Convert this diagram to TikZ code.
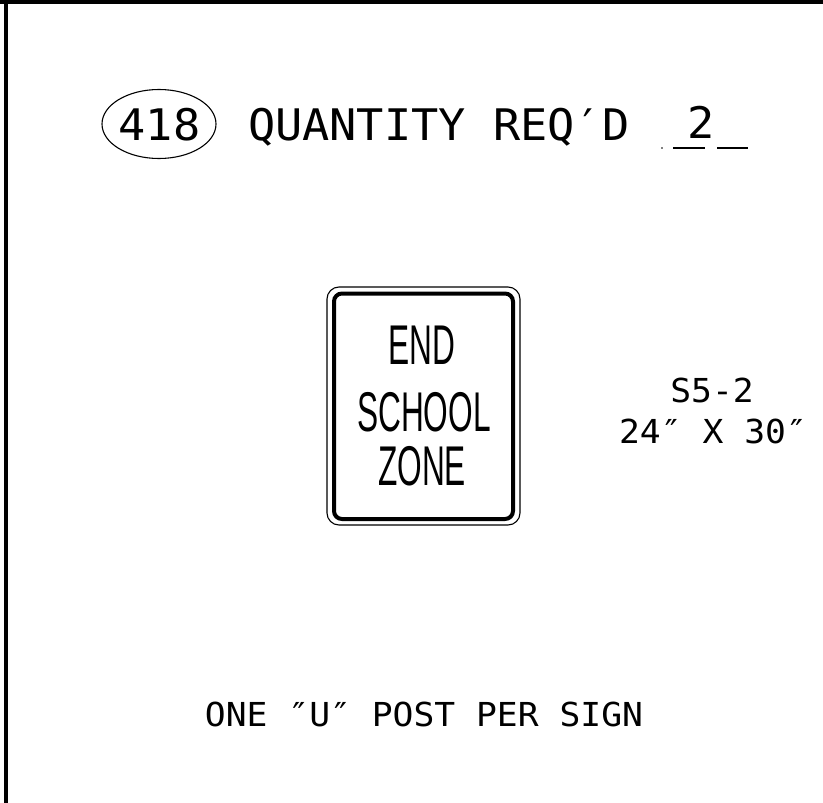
\documentclass[tikz,border=0pt]{standalone}
\usepackage{fontspec}
\usetikzlibrary{shapes.geometric}
\newfontfamily\monof{DejaVu Sans Mono}
\newfontfamily\signf{Liberation Sans}
\newcommand{\headtxt}[1]{\scalebox{1.04}[1]{\monof\fontsize{43.5}{50}\selectfont #1}}
\newcommand{\smalltxt}[1]{\scalebox{1.05}[1]{\monof\fontsize{33}{40}\selectfont #1}}
\newcommand{\signtxt}[1]{\scalebox{0.565}[1]{\signf\fontsize{56}{60}\selectfont #1}}
\begin{document}
\begin{tikzpicture}[x=1pt,y=-1pt,
  lbl/.style={anchor=base,inner sep=0pt,outer sep=0pt},
  frame/.style={line width=3.8pt},
  uline/.style={line width=1.4pt}]
\useasboundingbox (0,0) rectangle (823,803);
\fill[white] (0,0) rectangle (823,803);
% border
\draw[frame] (0,1.7) -- (823,1.7);
\draw[frame] (6,0) -- (6,803);
% heading
\node[ellipse,draw,line width=1.1pt,minimum width=114pt,minimum height=69pt,inner sep=0pt] (oval) at (159,124) {};
\node[lbl] (num) at (159.5,140.5) {\headtxt{418}};
\node[lbl,anchor=base west] (qty) at (248,140.5) {\headtxt{QUANTITY REQ′D}};
\node[lbl] (two) at (701,138) {\headtxt{2}};
\fill (662,148) circle (0.9);
\coordinate (u1a) at (673,148); \coordinate (u1b) at (705,148);
\coordinate (u2a) at (717,148); \coordinate (u2b) at (748,148);
\draw[uline] (u1a) -- (u1b);
\draw[uline] (u2a) -- (u2b);
% sign
\draw[line width=1.1pt,rounded corners=12pt] (327,287) rectangle (520,525);
\draw[line width=4pt,rounded corners=8pt] (334,293.5) rectangle (513,519);
\node[lbl] (l1) at (422,364) {\signtxt{END}};
\node[lbl] (l2) at (424,431) {\signtxt{SCHOOL}};
\node[lbl] (l3) at (422,485) {\signtxt{ZONE}};
% size
\node[lbl] (code) at (712,402) {\smalltxt{S5-2}};
\node[lbl] (dims) at (713,443) {\smalltxt{24″ X 30″}};
% note
\node[lbl] (note) at (424,726) {\smalltxt{ONE ″U″ POST PER SIGN}};
\end{tikzpicture}
\end{document}
